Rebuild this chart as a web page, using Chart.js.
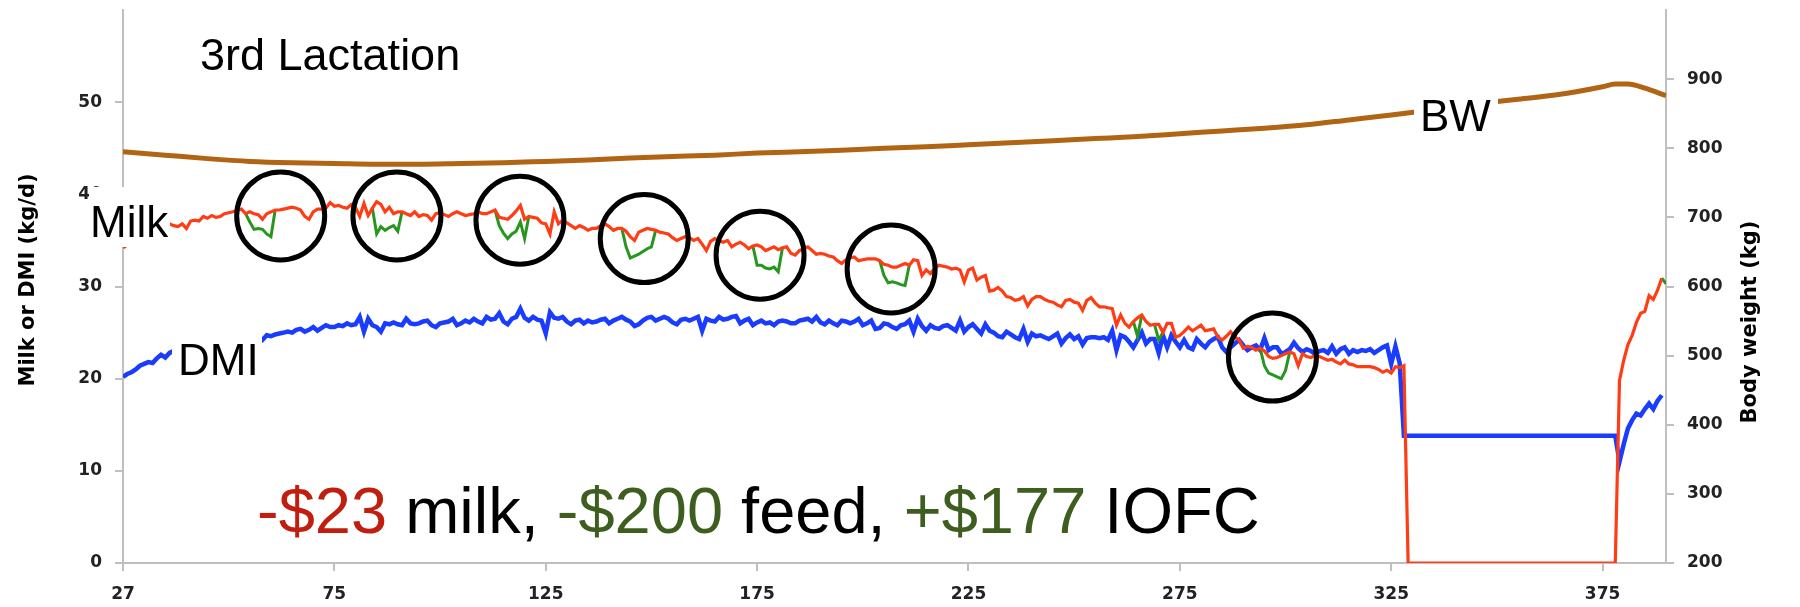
<!DOCTYPE html>
<html>
<head>
<meta charset="utf-8">
<script src="https://cdn.jsdelivr.net/npm/chart.js@4.4.1/dist/chart.umd.min.js"></script>
<style>
  html, body { margin: 0; padding: 0; background: #ffffff; }
  #wrap { width: 1800px; height: 607px; position: relative; }
</style>
</head>
<body>
<div id="wrap"><canvas id="c" width="1800" height="607"></canvas></div>
<script>
// x positions are sample indices (one per recorded day); tick labels are the day numbers shown
const xTickLabels = ['27', '75', '125', '175', '225', '275', '325', '375'];

// Milk yield (kg/d), index 0..364
const milk = [
34.2,34.5,34.9,35.2,35.4,35.7,35.9,36.1,36.2,36.4,
36.5,36.8,36.6,36.5,36.8,36.3,37.1,37.2,37.1,37.6,
37.4,37.7,37.5,37.6,37.9,38.0,38.1,38.3,38.4,37.9,
38.1,37.9,37.8,37.3,37.9,38.1,38.3,38.3,38.4,38.5,
38.6,38.5,38.3,37.6,37.3,38.1,38.4,38.4,38.5,39.1,
38.7,38.8,38.6,38.5,38.9,38.6,37.6,39.0,37.7,38.5,
39.2,38.9,38.1,38.6,37.9,38.1,38.1,37.9,37.7,38.1,
37.6,37.8,37.7,37.2,37.9,38.0,37.8,37.6,37.9,38.1,
37.9,37.7,37.8,37.9,38.1,37.9,37.9,38.1,38.3,37.5,
37.4,37.3,37.7,38.2,38.8,37.3,37.6,37.5,37.4,36.9,
36.8,35.7,38.1,36.8,37.2,36.9,36.6,36.3,36.6,36.4,
36.1,36.3,36.3,36.6,36.8,36.5,36.1,36.3,36.3,36.0,
35.4,35.0,35.9,36.1,36.3,36.2,36.1,35.9,35.8,35.7,
35.3,35.0,35.2,35.4,35.3,35.0,35.2,34.6,33.9,34.9,
35.2,35.0,34.8,35.0,34.3,34.6,34.8,34.5,34.1,34.4,
34.5,34.3,33.9,34.1,34.3,34.0,34.2,34.3,33.6,33.4,
33.9,34.1,34.3,33.9,33.5,33.6,33.5,33.3,33.2,32.8,
32.5,32.9,33.1,33.2,32.8,32.9,33.0,33.0,33.0,32.8,
32.4,32.3,32.1,32.1,32.3,32.5,32.3,32.9,32.8,31.2,
31.8,31.4,32.0,32.3,32.2,32.1,31.9,32.0,31.8,30.5,
31.8,32.0,30.7,31.0,31.2,29.5,29.6,29.9,29.5,28.9,
28.8,28.5,28.6,28.9,27.9,28.6,28.9,28.9,28.6,28.4,
28.3,28.0,27.8,28.5,28.6,28.3,28.2,27.4,28.5,28.8,
28.2,27.8,27.8,27.7,27.6,25.8,26.9,26.0,25.6,26.2,
26.6,26.9,26.2,25.8,25.9,25.9,25.0,26.0,26.0,24.5,
24.7,25.1,25.6,25.2,25.5,25.8,25.2,25.3,25.4,24.5,
24.2,24.6,25.1,24.5,24.2,23.3,23.5,23.4,23.1,23.3,
23.0,22.4,22.2,22.3,22.5,22.7,22.9,22.7,21.4,22.7,
22.4,22.3,22.5,22.4,22.2,22.0,22.1,21.8,21.6,22.0,
21.6,21.5,21.3,21.3,21.3,21.3,21.2,21.0,20.7,20.9,
20.6,21.3,21.2,21.4,0,0,0,0,0,0,
0,0,0,0,0,0,0,0,0,0,
0,0,0,0,0,0,0,0,0,0,
0,0,0,0,0,0,0,0,0,0,
0,0,0,0,0,0,0,0,0,0,
0,0,0,0,19.8,22.0,23.7,24.7,26.1,27.1,
27.3,29.0,28.6,29.6,30.9
];

// Dry matter intake (kg/d), index 0..364
const dmi = [
20.2,20.5,20.7,21.0,21.4,21.6,21.8,21.7,22.2,22.6,
22.3,22.8,23.0,23.1,23.3,23.2,23.5,23.6,23.5,23.8,
23.9,23.8,24.0,24.1,23.9,24.2,24.3,24.1,24.4,24.5,
24.3,24.4,24.6,24.2,24.7,24.6,24.8,24.9,25.0,25.1,
25.0,25.3,25.4,25.1,25.3,25.6,25.2,25.5,25.8,25.6,
25.6,25.8,25.7,26.0,25.8,25.9,26.7,25.1,26.5,25.8,
25.6,25.1,26.0,25.9,26.1,25.9,25.8,26.5,26.0,25.9,
26.0,26.2,26.3,25.8,25.6,26.0,26.1,26.2,26.5,25.8,
26.0,26.3,26.1,26.5,26.2,26.0,26.7,26.4,26.5,27.1,
26.2,25.9,26.5,26.7,27.6,26.6,26.3,26.7,26.4,26.3,
24.9,27.2,26.6,26.5,26.7,26.2,25.9,26.3,26.4,26.0,
26.3,26.1,26.2,26.4,26.5,26.0,26.3,26.5,26.7,26.4,
26.2,25.7,25.9,26.3,26.6,26.7,26.3,26.5,26.7,26.5,
26.1,25.9,26.4,26.5,26.3,26.5,26.7,25.2,26.5,26.3,
26.2,26.7,26.4,26.5,26.7,26.8,26.0,26.3,26.5,25.8,
26.1,26.3,26.0,26.1,25.8,26.2,26.3,26.2,26.0,26.0,
26.3,26.4,26.5,26.2,26.7,26.1,25.9,26.3,26.0,25.8,
26.3,26.2,26.0,26.2,26.5,25.8,26.0,26.3,25.4,25.5,
26.0,25.9,25.6,25.4,25.8,25.9,26.3,25.1,26.5,25.7,
25.2,25.8,25.5,25.4,25.7,25.8,25.5,25.2,26.3,25.1,
25.6,25.9,25.4,24.9,25.9,25.2,25.0,24.6,24.5,25.1,
24.8,24.5,24.3,25.4,24.0,24.9,24.6,24.7,24.5,24.3,
24.6,24.9,23.8,24.4,24.8,24.3,24.6,23.7,24.4,24.5,
24.5,24.4,24.5,24.2,25.2,23.1,24.7,24.5,24.0,23.4,
24.2,25.0,23.8,24.3,24.3,22.8,24.7,23.4,24.7,24.0,
23.4,24.2,23.4,23.2,24.3,23.8,23.4,24.0,24.3,24.5,
23.4,22.9,23.4,23.8,24.2,23.6,23.1,23.4,23.6,23.1,
24.4,23.1,23.4,23.4,22.7,22.9,23.2,23.9,23.3,22.9,
23.2,23.0,22.7,23.0,23.1,22.8,23.5,22.7,23.2,23.4,
22.7,23.1,22.9,23.1,23.0,23.2,22.8,23.1,23.4,23.6,
21.6,23.5,21.7,13.8,13.8,13.8,13.8,13.8,13.8,13.8,
13.8,13.8,13.8,13.8,13.8,13.8,13.8,13.8,13.8,13.8,
13.8,13.8,13.8,13.8,13.8,13.8,13.8,13.8,13.8,13.8,
13.8,13.8,13.8,13.8,13.8,13.8,13.8,13.8,13.8,13.8,
13.8,13.8,13.8,13.8,13.8,13.8,13.8,13.8,13.8,13.8,
13.8,13.8,13.8,13.8,11.0,12.9,14.6,15.5,16.2,16.0,
16.7,17.3,16.7,17.6,18.2
];

// Body weight (kg), sampled at these indices
const bwIdx = [0,10,20,30,40,50,60,70,80,90,100,110,120,130,140,150,160,170,180,190,200,210,220,230,240,250,260,270,280,290,300,310,320,330,340,350,353,356,360,365];
const bwKg  = [795,790,785,781,779,778,777,777,778,779,781,783,786,788,790,793,795,797,800,802,805,808,811,814,817,821,825,829,834,841,848,856,864,871,878,889,893,893,887,876];

// Milk on the alternate feed: stretches where it differs from the main milk curve
const greenStart = [29, 59, 88, 118, 149, 179, 239, 244, 269, 364];
const greenRuns = [
  [37.9,37.0,36.2,36.3,36.2,35.7,35.4,38.3],
  [38.5,35.7,36.5,36.1,36.4,36.6,36.0,38.1],
  [38.3,36.6,35.8,35.2,35.7,36.0,37.0,35.2,37.6],
  [36.3,34.3,33.1,33.3,33.5,33.8,34.1,34.3,36.1],
  [34.4,32.3,32.3,32.0,31.9,32.1,31.6,34.2],
  [32.8,31.2,30.4,30.5,30.4,30.2,30.1,32.3],
  [26.2,24.6,26.9],
  [25.9,24.2,25.0],
  [23.3,21.4,20.6,20.4,20.2,20.0,20.9,22.9],
  [30.9,30.3]
];

// Highlight circles (centre index, centre kg/d)
const circleIdx = [37.3, 64.8, 93.9, 123.3, 150.7, 181.7, 271.9];
const circleVal = [37.65, 37.65, 37.2, 35.2, 33.4, 31.9, 22.35];

const toPts = arr => arr.map((v, i) => ({x: i, y: v}));
const greenPts = [];
greenStart.forEach((s, k) => {
  greenRuns[k].forEach((v, j) => greenPts.push({x: s + j, y: v}));
  greenPts.push({x: s + greenRuns[k].length - 0.5, y: null});
});
const bwPts = bwIdx.map((v, i) => ({x: v, y: bwKg[i]}));

const AXIS_GRAY = '#bfbfbf';
const tickFont = {family: 'DejaVu Sans', weight: 'bold', size: 17};

const annot = {
  id: 'annot',
  afterDatasetsDraw(chart) {
    const {ctx} = chart;
    const xs = chart.scales.x, ys = chart.scales.y;
    ctx.save();
    // circles
    ctx.strokeStyle = '#000';
    ctx.lineWidth = 5;
    circleIdx.forEach((ci, i) => {
      ctx.beginPath();
      ctx.arc(xs.getPixelForValue(ci), ys.getPixelForValue(circleVal[i]), 44, 0, Math.PI * 2);
      ctx.stroke();
    });
    // series labels on white boxes
    const boxes = [
      {t: 'Milk', bx: 89, by: 187, bw: 81, bh: 60, tx: 90, ty: 237},
      {t: 'DMI', bx: 172, by: 334, bw: 90, bh: 52, tx: 178, ty: 375},
      {t: 'BW', bx: 1414, by: 90, bw: 84, bh: 50, tx: 1420, ty: 131}
    ];
    ctx.font = '44px "Liberation Sans", Arial, sans-serif';
    ctx.textAlign = 'left';
    ctx.textBaseline = 'alphabetic';
    boxes.forEach(b => {
      ctx.fillStyle = '#fff';
      ctx.fillRect(b.bx, b.by, b.bw, b.bh);
      ctx.fillStyle = '#000';
      ctx.fillText(b.t, b.tx, b.ty);
    });
    ctx.font = '45px "Liberation Sans", Arial, sans-serif';
    ctx.fillText('3rd Lactation', 200, 70);
    // big summary line
    const parts = ['-$23', ' milk, ', '-$200', ' feed, ', '+$177', ' IOFC'];
    const cols = ['#c01e0e', '#000', '#3e5e1f', '#000', '#3e5e1f', '#000'];
    ctx.font = '65px "Liberation Sans", Arial, sans-serif';
    let px = 257;
    parts.forEach((p, i) => {
      ctx.fillStyle = cols[i];
      ctx.fillText(p, px, 533);
      px += ctx.measureText(p).width;
    });
    // axis titles
    ctx.fillStyle = '#000';
    ctx.font = 'bold 21px "DejaVu Sans", sans-serif';
    ctx.textAlign = 'center';
    ctx.textBaseline = 'middle';
    ctx.save();
    ctx.translate(29, 280);
    ctx.rotate(-Math.PI / 2);
    ctx.fillText('Milk or DMI (kg/d)', 0, 0);
    ctx.restore();
    ctx.save();
    ctx.translate(1751, 322);
    ctx.rotate(-Math.PI / 2);
    ctx.fillText('Body weight (kg)', 0, 0);
    ctx.restore();
    ctx.restore();
  }
};

const fixVertical = w => s => { s.width = w; s.paddingTop = 10; s.paddingBottom = 0; };

new Chart(document.getElementById('c'), {
  type: 'line',
  data: {
    datasets: [
      {label: 'Milk', data: toPts(milk), yAxisID: 'y', borderColor: '#ff3c14', borderWidth: 3.2, pointRadius: 0, tension: 0, order: 1},
      {label: 'Milk alt', data: greenPts, yAxisID: 'y', borderColor: '#27961e', borderWidth: 3, pointRadius: 0, tension: 0, spanGaps: false, order: 2},
      {label: 'DMI', data: toPts(dmi), yAxisID: 'y', borderColor: '#1a3cff', borderWidth: 4.5, pointRadius: 0, tension: 0, order: 3},
      {label: 'BW', data: bwPts, yAxisID: 'yR', borderColor: '#b06414', borderWidth: 5, pointRadius: 0, cubicInterpolationMode: 'monotone', order: 4}
    ]
  },
  options: {
    responsive: false,
    animation: false,
    devicePixelRatio: 1,
    layout: {padding: {left: 0, right: 0, top: 0, bottom: 0}},
    plugins: {legend: {display: false}, tooltip: {enabled: false}},
    scales: {
      x: {
        type: 'linear', min: 0, max: 365,
        afterFit: s => { s.height = 44; },
        border: {display: true, color: AXIS_GRAY, width: 2},
        grid: {drawOnChartArea: false, drawTicks: true, tickLength: 8, color: AXIS_GRAY, tickColor: AXIS_GRAY, lineWidth: 2},
        ticks: {
          stepSize: 50, includeBounds: false, autoSkip: false, maxRotation: 0, minRotation: 0,
          padding: 13, color: '#222', font: tickFont,
          callback: v => (v % 50 === 0 && xTickLabels[v / 50] !== undefined) ? xTickLabels[v / 50] : ''
        }
      },
      y: {
        position: 'left', min: 0, max: 60,
        afterFit: fixVertical(123),
        border: {display: true, color: AXIS_GRAY, width: 2},
        grid: {drawOnChartArea: false, drawTicks: true, tickLength: 8, color: AXIS_GRAY, lineWidth: 2,
               tickColor: ctx => (ctx.tick && ctx.tick.value === 60) ? 'rgba(0,0,0,0)' : AXIS_GRAY},
        ticks: {stepSize: 10, padding: 13, color: '#222', font: tickFont,
                callback: v => v === 60 ? '' : String(v)}
      },
      yR: {
        position: 'right', min: 200, max: 1000,
        afterFit: fixVertical(134),
        border: {display: true, color: AXIS_GRAY, width: 2},
        grid: {drawOnChartArea: false, drawTicks: true, tickLength: 8, color: AXIS_GRAY, lineWidth: 2,
               tickColor: ctx => (ctx.tick && ctx.tick.value === 1000) ? 'rgba(0,0,0,0)' : AXIS_GRAY},
        ticks: {stepSize: 100, padding: 13, color: '#222', font: tickFont,
                callback: v => v === 1000 ? '' : String(v)}
      }
    }
  },
  plugins: [annot]
});
</script>
</body>
</html>
